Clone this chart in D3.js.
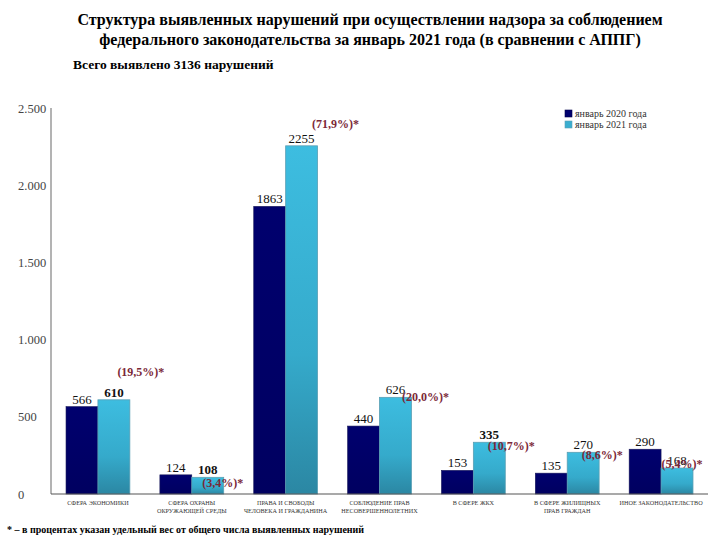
<!DOCTYPE html>
<html><head><meta charset="utf-8">
<script src="https://cdn.jsdelivr.net/npm/d3@7"></script>
<style>body{margin:0;background:#fff}svg{display:block}svg text{font-family:"Times New Roman",Tinos,"Liberation Serif","Noto Serif","DejaVu Serif",serif !important}</style>
</head><body>
<script>
const categories = [
  ["СФЕРА ЭКОНОМИКИ"],
  ["СФЕРА ОХРАНЫ", "ОКРУЖАЮЩЕЙ СРЕДЫ"],
  ["ПРАВА И СВОБОДЫ", "ЧЕЛОВЕКА И ГРАЖДАНИНА"],
  ["СОБЛЮДЕНИЕ ПРАВ", "НЕСОВЕРШЕННОЛЕТНИХ"],
  ["В СФЕРЕ ЖКХ"],
  ["В СФЕРЕ ЖИЛИЩНЫХ", "ПРАВ ГРАЖДАН"],
  ["ИНОЕ ЗАКОНОДАТЕЛЬСТВО"]
];
const series = ["январь 2020 года", "январь 2021 года"];
const values2020 = [566, 124, 1863, 440, 153, 135, 290];
const values2021 = [610, 108, 2255, 626, 335, 270, 168];
const shares = ["(19,5%)*", "(3,4%)*", "(71,9%)*", "(20,0%)*", "(10,7%)*", "(8,6%)*", "(5,4%)*"];
const yTicks = [0, 500, 1000, 1500, 2000, 2500];
const yTickLabels = ["0", "500", "1.000", "1.500", "2.000", "2.500"];
// layout offsets for share labels (relative to 2021 bar centre/top)
const shareDx = [27, 15, 34, 30, 22, 19, 5];
const shareDy = [-24, 10, -18, 4, 8, 7, 0];

const W = 720, H = 540;
const svg = d3.select("body").append("svg").attr("width", W).attr("height", H);
const defs = svg.append("defs");
const gl = defs.append("linearGradient").attr("id","gLight").attr("x1",0).attr("y1",0).attr("x2",0).attr("y2",1);
gl.append("stop").attr("offset","0%").attr("stop-color","#3dbde0");
gl.append("stop").attr("offset","60%").attr("stop-color","#35aacb");
gl.append("stop").attr("offset","100%").attr("stop-color","#2b87a3");
const gd = defs.append("linearGradient").attr("id","gDark").attr("x1",0).attr("y1",0).attr("x2",0).attr("y2",1);
gd.append("stop").attr("offset","0%").attr("stop-color","#00006e");
gd.append("stop").attr("offset","100%").attr("stop-color","#000060");

// Titles
svg.append("text").attr("x", 370).attr("y", 25).attr("text-anchor","middle")
  .attr("font-weight","bold").attr("font-size", 16)
  .text("Структура выявленных нарушений при осуществлении надзора за соблюдением");
svg.append("text").attr("x", 370).attr("y", 45).attr("text-anchor","middle")
  .attr("font-weight","bold").attr("font-size", 16)
  .text("федерального законодательства за январь 2021 года (в сравнении с АППГ)");
svg.append("text").attr("x", 73).attr("y", 69)
  .attr("font-weight","bold").attr("font-size", 13.5)
  .text("Всего выявлено 3136 нарушений");

const pLeft = 51, pRight = 708, pTop = 108, pBottom = 494;
const x = d3.scaleBand().domain(d3.range(categories.length)).range([pLeft, pRight]).paddingInner(0.32).paddingOuter(0.16);
const xs = d3.scaleBand().domain([0,1]).range([0, x.bandwidth()]);
const y = d3.scaleLinear().domain([0, 2500]).range([pBottom, pTop]);

// axes lines
svg.append("line").attr("x1", pLeft).attr("x2", pLeft).attr("y1", pTop).attr("y2", pBottom).attr("stroke","#9a9a9a").attr("stroke-width",1.5);

// y tick labels
const yAxis = d3.axisLeft(y).tickValues(yTicks).tickFormat((d,i)=>yTickLabels[i]).tickSize(0);
const yg = svg.append("g").attr("transform", `translate(${pLeft},0)`).call(yAxis);
yg.select(".domain").remove();
yg.selectAll("text").attr("x", 18 - pLeft).attr("text-anchor","start")
  .attr("font-size", 12.5).attr("fill","#444");

const g = svg.append("g");
categories.forEach((c, i) => {
  const x0 = x(i);
  g.append("rect").attr("x", x0 + xs(0)).attr("width", xs.bandwidth())
    .attr("y", y(values2020[i])).attr("height", y(0) - y(values2020[i]))
    .attr("fill","url(#gDark)").attr("stroke","#1a1a5a").attr("stroke-width",0.6);
  g.append("rect").attr("x", x0 + xs(1)).attr("width", xs.bandwidth())
    .attr("y", y(values2021[i])).attr("height", y(0) - y(values2021[i]))
    .attr("fill","url(#gLight)").attr("stroke","#5a9fb4").attr("stroke-width",0.8);
  g.append("text").attr("x", x0 + xs(0) + xs.bandwidth()/2).attr("y", y(values2020[i]) - 3)
    .attr("text-anchor","middle").attr("font-size", 13).attr("fill","#111")
    .text(values2020[i]);
  g.append("text").attr("x", x0 + xs(1) + xs.bandwidth()/2).attr("y", y(values2021[i]) - 3)
    .attr("text-anchor","middle").attr("font-size", 13).attr("font-weight", i===0||i===1||i===4 ? "bold" : "normal").attr("fill","#111")
    .text(values2021[i]);
  // category labels
  c.forEach((line, k) => {
    g.append("text").attr("x", x0 + x.bandwidth()/2).attr("y", 505 + k*7.5)
      .attr("text-anchor","middle").attr("font-size", 6.2).attr("fill","#333")
      .text(line);
  });
});

// baseline
svg.append("line").attr("x1", pLeft).attr("x2", pRight).attr("y1", pBottom).attr("y2", pBottom).attr("stroke","#555").attr("stroke-width",1.2);

// share labels
categories.forEach((c, i) => {
  const cx = x(i) + xs(1) + xs.bandwidth()/2;
  svg.append("text").attr("x", cx + shareDx[i]).attr("y", y(values2021[i]) + shareDy[i])
    .attr("text-anchor","middle").attr("font-size", 12).attr("font-weight","bold")
    .attr("fill","#7b2838").text(shares[i]);
});

// legend
const lg = svg.append("g").attr("transform","translate(565,110)");
series.forEach((s, i) => {
  lg.append("rect").attr("x",0).attr("y", i*11).attr("width",7).attr("height",7)
    .attr("fill", i===0 ? "#00006e" : "#3aaed0").attr("stroke", i===0 ? "#00004a" : "#5a9fb4").attr("stroke-width",0.6);
  lg.append("text").attr("x", 10).attr("y", i*11 + 7).attr("font-size", 10).attr("fill","#333").text(s);
});

// footnote
svg.append("text").attr("x", 7).attr("y", 533).attr("font-weight","bold").attr("font-size", 10)
  .text("* – в процентах указан удельный вес от общего числа выявленных нарушений");
</script>
</body></html>
